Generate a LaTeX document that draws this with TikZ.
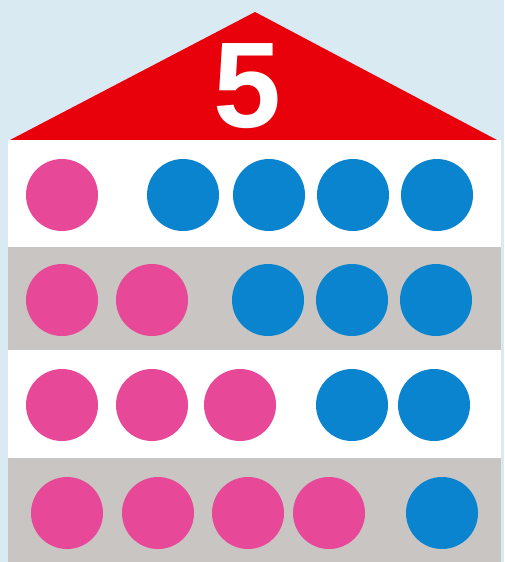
\documentclass[tikz,border=0pt]{standalone}
\usepackage{fontspec}
\usepackage{tikz}
\newfontfamily\roofnum{Liberation Sans}
\definecolor{skyback}{RGB}{218,234,243}
\definecolor{roofred}{RGB}{232,0,10}
\definecolor{rowgray}{RGB}{200,197,195}
\definecolor{dotpink}{RGB}{232,72,152}
\definecolor{dotblue}{RGB}{10,132,206}
\tikzstyle{pinkdot}=[circle,fill=dotpink,inner sep=0pt,minimum size=72pt]
\tikzstyle{bluedot}=[circle,fill=dotblue,inner sep=0pt,minimum size=72pt]

\begin{document}
\begin{tikzpicture}[x=1pt,y=-1pt]
      \fill[skyback] (0,0) rectangle (504,562);
      \useasboundingbox (0,0) rectangle (504,562);
      % roof
      \fill[roofred] (10,140) -- (255,12) -- (497,140) -- cycle;
      \node[text=white,font=\roofnum\bfseries\fontsize{122}{122}\selectfont] (num) at (247,86) {5};
      % rows
      \fill[white] (8,140) rectangle (501,247);
      \fill[rowgray] (8,247) rectangle (501,350);
      \fill[white] (8,350) rectangle (501,458);
      \fill[rowgray] (8,458) rectangle (501,562);

      \node[pinkdot] (r1a) at (62,195) {};
      \node[bluedot] (r1b) at (183,195) {};
      \node[bluedot] (r1c) at (269,195) {};
      \node[bluedot] (r1d) at (353,195) {};
      \node[bluedot] (r1e) at (437,195) {};

      \node[pinkdot] (r2a) at (62,300) {};
      \node[pinkdot] (r2b) at (152,300) {};
      \node[bluedot] (r2c) at (268,300) {};
      \node[bluedot] (r2d) at (352,300) {};
      \node[bluedot] (r2e) at (436,300) {};

      \node[pinkdot] (r3a) at (62,405) {};
      \node[pinkdot] (r3b) at (152,405) {};
      \node[pinkdot] (r3c) at (240,405) {};
      \node[bluedot] (r3d) at (352,405) {};
      \node[bluedot] (r3e) at (434,405) {};

      \node[pinkdot] (r4a) at (67,513) {};
      \node[pinkdot] (r4b) at (158,513) {};
      \node[pinkdot] (r4c) at (248,513) {};
      \node[pinkdot] (r4d) at (329,513) {};
      \node[bluedot] (r4e) at (442,513) {};
    \end{tikzpicture}
\end{document}
